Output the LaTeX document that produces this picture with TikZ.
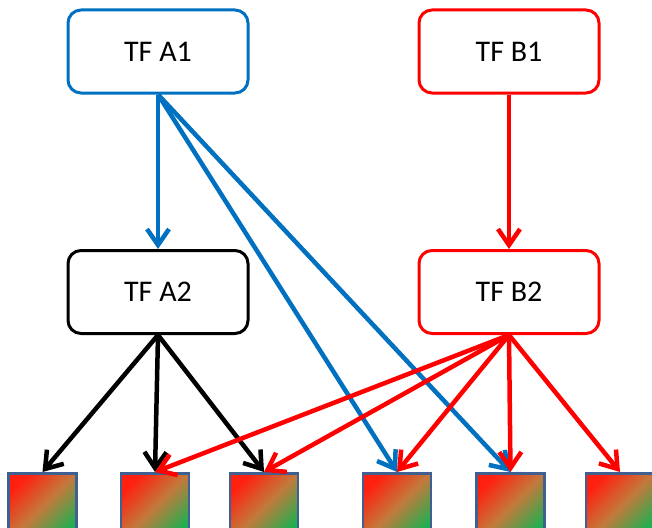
\documentclass[tikz,border=0pt]{standalone}
\usepackage{fontspec}
\setmainfont{Carlito}
\usetikzlibrary{arrows.meta}
\definecolor{tfblue}{HTML}{0070C0}
\definecolor{tfred}{HTML}{FF0000}
\definecolor{sqedge}{HTML}{3F6090}
\definecolor{sqred}{HTML}{FF2010}
\definecolor{sqgreen}{HTML}{1EB050}
\definecolor{sqmid}{HTML}{C27A3C}
\begin{document}
\begin{tikzpicture}[x=1pt,y=-1pt,
  tfbox/.style={draw, rounded corners=13pt, line width=3pt, minimum width=180pt, minimum height=83pt, inner sep=0pt, font=\fontsize{30}{34}\selectfont, fill=white},
  gene/.style={draw=sqedge, line width=2.5pt, minimum size=68pt, inner sep=0pt, anchor=north,
    top color=sqred, bottom color=sqgreen, middle color=sqmid, shading angle=45},
  link/.style={line width=4.5pt, -{Straight Barb[length=16pt,width=22pt,line width=4.5pt]}}
]
\useasboundingbox (0,0) rectangle (652,527);
\clip (0,0) rectangle (652,527);
\node[tfbox, draw=tfblue] (a1) at (158,51.5) {TF A1};
\node[tfbox, draw=tfred] (b1) at (509,51.5) {TF B1};
\node[tfbox, draw=black] (a2) at (158,292) {TF A2};
\node[tfbox, draw=tfred] (b2) at (509,292) {TF B2};

\node[gene] (s1) at (42.5,472) {};
\node[gene] (s2) at (155,472) {};
\node[gene] (s3) at (264,472) {};
\node[gene] (s4) at (397,472) {};
\node[gene] (s5) at (510.5,472) {};
\node[gene] (s6) at (620,472) {};

\draw[link, tfblue] (a1.south) -- (a2.north);
\draw[link, tfblue] (a1.south) -- (s4.north);
\draw[link, tfblue] (a1.south) -- (s5.north);
\draw[link, tfred] (b1.south) -- (b2.north);
\draw[link, black] (a2.south) -- (s1.north);
\draw[link, black] (a2.south) -- (s2.north);
\draw[link, black] (a2.south) -- (s3.north);
\draw[link, tfred] (b2.south) -- (s2.north);
\draw[link, tfred] (b2.south) -- (s3.north);
\draw[link, tfred] (b2.south) -- (s4.north);
\draw[link, tfred] (b2.south) -- (s5.north);
\draw[link, tfred] (b2.south) -- (s6.north);
\end{tikzpicture}
\end{document}
